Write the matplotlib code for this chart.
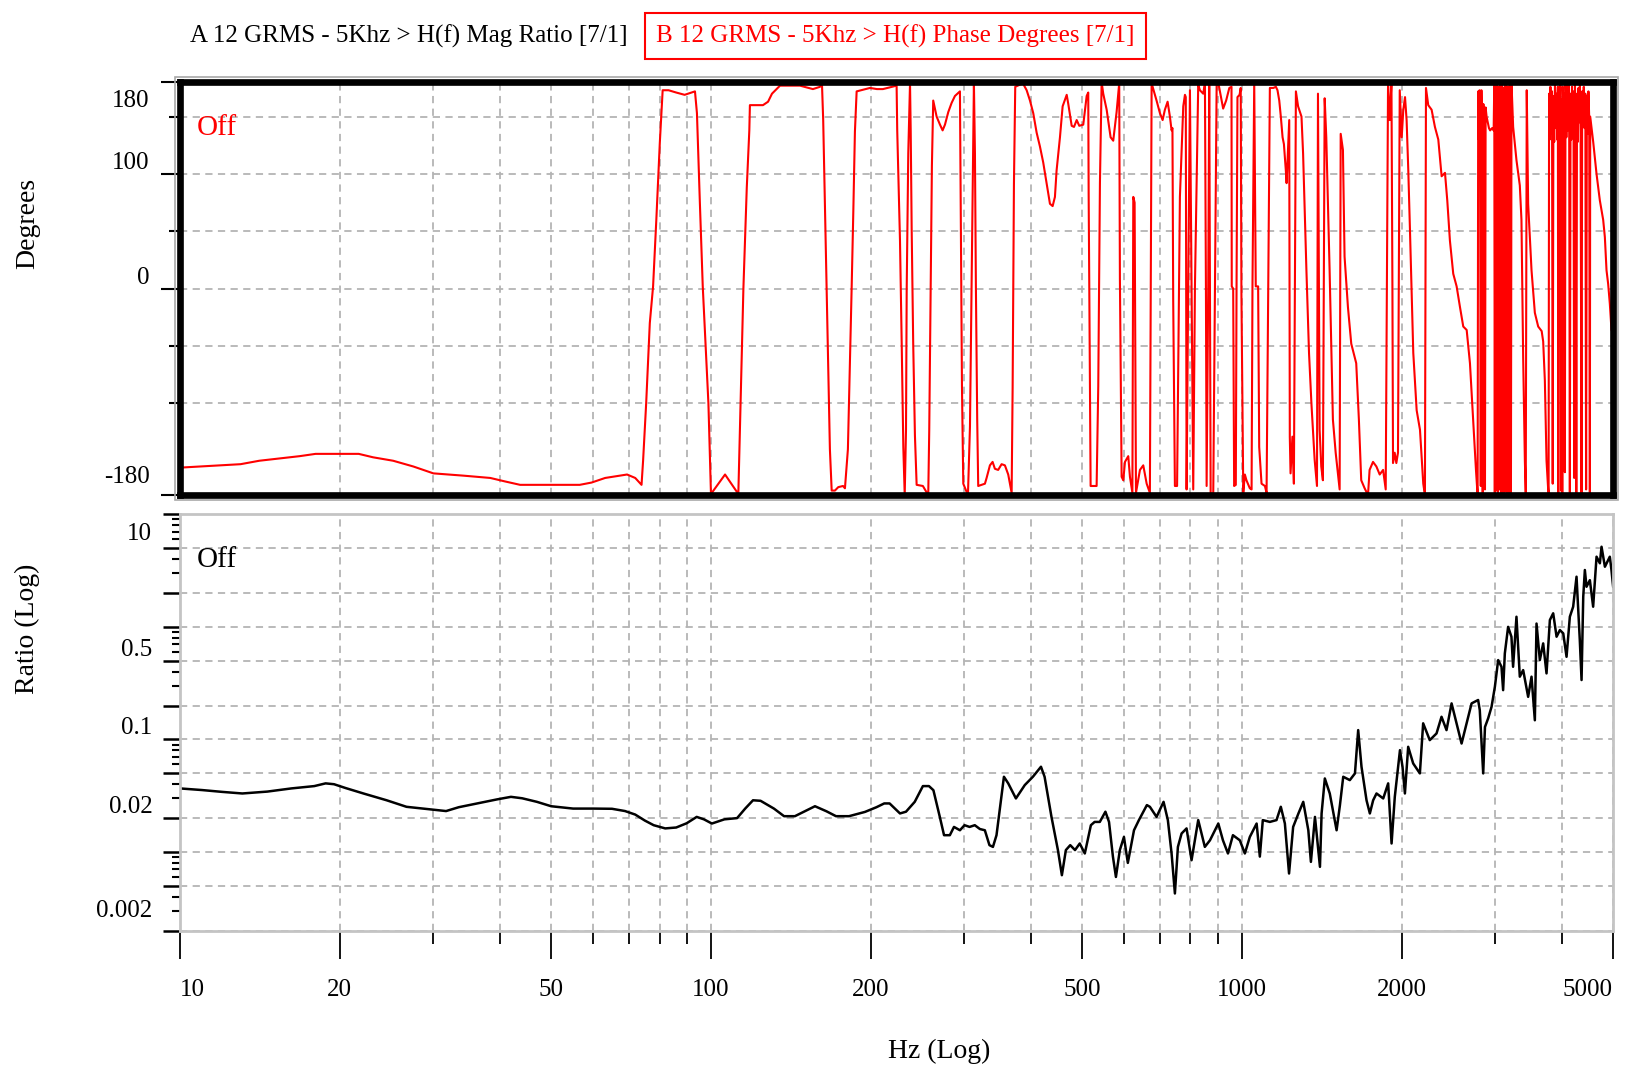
import matplotlib
matplotlib.use('Agg')
import matplotlib.pyplot as plt
from matplotlib.ticker import FixedLocator, FixedFormatter, NullFormatter
from matplotlib.transforms import ScaledTranslation
from matplotlib.patches import Rectangle

# phase trace (Hz, degrees)
phase_hz = [
    10, 10.9, 13.0, 14.1, 15.4, 16.8, 18.0, 21.7, 23.1, 25.2,
    27.5, 30.0, 34.2, 38.4, 40.9, 43.7, 56.6, 59.6, 63.2, 69.5,
    72.0, 74.0, 74.5, 75.5, 76.7, 77.8, 78.9, 80.1, 81.1, 83.2,
    86.0, 89.2, 93.3, 94.1, 95.3, 96.5, 97.4, 98.9, 100, 106.3,
    112.6, 113.4, 115.1, 116.8, 118.1, 118.4, 125.3, 128.1, 130.3, 134.9,
    147.1, 155.6, 160.5, 161.8, 162.7, 163.9, 165.1, 166.3, 167.5, 168.8,
    171.2, 173.7, 177.3, 178.8, 181.1, 182.7, 184.1, 185.4, 186.7, 188.1,
    199.3, 205.4, 210.8, 223.7, 224.3, 227.0, 228.7, 230.3, 231.7, 233.0,
    233.7, 235.3, 237.1, 237.8, 238.8, 240.4, 242.2, 244.0, 250.7, 252.9,
    256.6, 257.7, 259.2, 260.7, 262.2, 266.1, 270.0, 273.1, 275.9, 279.9,
    284.0, 288.1, 294.4, 295.3, 297.0, 298.7, 304.8, 307.5, 309.7, 311.9,
    312.8, 314.2, 315.5, 317.3, 318.7, 328.1, 330.5, 335.3, 339.2, 342.6,
    347.5, 352.7, 357.8, 363.0, 368.4, 370.0, 372.1, 374.2, 386.9, 393.2,
    398.9, 404.6, 410.6, 416.5, 422.5, 428.8, 435.0, 440.1, 444.5, 447.7,
    454.3, 459.6, 467.8, 471.0, 478.0, 482.8, 488.5, 494.0, 502.6, 510.1,
    513.6, 514.5, 517.4, 518.9, 532.6, 536.4, 540.3, 544.3, 548.1, 556.3,
    565.9, 572.4, 580.8, 587.4, 589.2, 593.6, 597.9, 602.3, 610.9, 615.4,
    622, 624.4, 628, 631.7, 642.7, 652.0, 661.7, 671, 676.1, 690.7,
    700.9, 709.1, 716.1, 724.6, 731.9, 737.2, 740, 742.4, 747.9, 755,
    764.3, 775.5, 781.2, 784, 786.8, 792.4, 798.3, 804.0, 809.8, 815.8,
    827.5, 833.6, 845.6, 851.9, 855.6, 858.2, 864.2, 868.0, 870.7, 873.3,
    883.2, 889.8, 896.4, 902.4, 922, 934, 947, 956, 957, 963,
    967, 974, 977, 981, 990, 995, 998, 1006, 1013, 1020,
    1035, 1043, 1047, 1055, 1062, 1073, 1078, 1089, 1105, 1113,
    1121, 1129, 1146, 1159, 1167, 1176, 1184, 1193, 1200, 1210,
    1214, 1222, 1228, 1231, 1235, 1245, 1253, 1264, 1276, 1295,
    1304, 1323, 1338, 1352, 1371, 1385, 1391, 1401, 1411, 1421,
    1432, 1442, 1463, 1484, 1502, 1528, 1535, 1550, 1561, 1584,
    1607, 1642, 1661, 1678, 1703, 1728, 1740, 1766, 1792, 1818,
    1845, 1866, 1885, 1899, 1913, 1921, 1926, 1940, 1954, 1968,
    1983, 2000, 2014, 2029, 2043, 2058, 2073, 2103, 2134, 2165,
    2196, 2212, 2222, 2244, 2277, 2310, 2344, 2378, 2413, 2437,
    2465, 2501, 2538, 2575, 2612, 2651, 2689, 2728, 2760, 2775,
    2780, 2787, 2795, 2803, 2810, 2818, 2826, 2834, 2842, 2850,
    2860, 2870, 2878, 2890, 2905, 2920, 2935, 2960, 2980, 2988,
    2995, 3002, 3009, 3016, 3023, 3030, 3037, 3044, 3051, 3058,
    3065, 3072, 3079, 3086, 3093, 3100, 3107, 3114, 3121, 3128,
    3135, 3142, 3149, 3156, 3163, 3170, 3178, 3186, 3195, 3205,
    3212, 3220, 3243, 3290, 3338, 3362, 3387, 3412, 3425, 3440,
    3461, 3512, 3563, 3615, 3670, 3694, 3721, 3748, 3775, 3782,
    3790, 3800, 3812, 3825, 3838, 3850,
    3862, 3875, 3888, 3900, 3913, 3925, 3937, 3944, 3952, 3965,
    3978, 3991, 4001, 4013, 4022, 4030, 4045, 4058, 4070, 4085,
    4098, 4110, 4122, 4135, 4147, 4160, 4173, 4186, 4200, 4213,
    4226, 4240, 4252, 4265, 4278, 4292, 4305, 4318, 4332, 4345,
    4362, 4375, 4390, 4405, 4420, 4435, 4450, 4465, 4480, 4495,
    4510, 4523, 4530, 4589, 4656, 4723, 4792, 4827, 4862, 4897,
    4932, 4968, 5000,
]
phase_deg = [
    -156, -155, -153, -150, -148, -146, -144, -144, -147, -150,
    -155, -161, -163, -165, -168, -171, -171, -169, -165, -162,
    -165, -171, -150, -100, -30, 2, 60, 127, 173, 173,
    171, 169, 172, 153, 75, 2, -36, -100, -179, -162,
    -179, -120, 0, 88, 138, 160, 160, 163, 170, 177,
    177, 174, 176, 180, 147, 75, 2, -70, -140, -176,
    -176, -173, -172, -174, -140, -65, 2, 67, 137, 172,
    175, 174, 174, 177, 138, 42, -48, -138, -180, -123,
    -1, 118, 179, 138, 52, -48, -128, -171, -172, -175,
    -180, -124, -7, 107, 164, 150, 143, 138, 143, 154,
    162, 168, 172, 83, -85, -170, -180, -120, 2, 121,
    179, 118, 2, -114, -172, -170, -165, -154, -151, -157,
    -158, -153, -154, -162, -178, -86, 91, 176, 179, 173,
    164, 153, 136, 124, 110, 92, 74, 72, 80, 103,
    132, 159, 169, 161, 142, 141, 147, 142, 143, 168,
    171, 83, -90, -172, -172, -85, 92, 180, 170, 156,
    132, 129, 154, 179, 8, -164, -167, -151, -146, -164,
    -178, 80, 75, -178, -158, -154, -170, -178, 179, 164,
    153, 147, 156, 163, 150, 138, 140, -10, -172, -172,
    80, 159, 169, 167, -175, 2, 173, 2, -175, 2,
    178, 173, 170, 179, 2, -172, 2, 180, 2, -178,
    -180, 2, 180, 180, 157, 164, 175, 176, 2, 0,
    -172, -171, -4, 167, 169, 175, -4, -178, -162, -167,
    -174, -175, 2, 180, 2, 2, -138, -170, -172, -178,
    -4, 175, 175, 176, 173, 164, 150, 132, 126, 103,
    92, 124, 147, -129, -161, -129, -170, 172, 159, 150,
    118, 16, -56, -100, -149, -172, 170, -123, -155, -167,
    166, 132, 16, -114, -143, -175, 135, 121, 28, -16,
    -48, -65, -114, -167, -174, -180, -158, -151, -155, -162,
    -158, -175, 179, 147, 180, 2, -152, -143, -152, -143,
    173, 132, 156, 167, 147, 103, 51, -56, -106, -123,
    -170, -180, 175, 160, 156, 141, 130, 98, 101, 77,
    42, 13, 2, -16, -33, -36, -65, -117, -158, -175,
    -178, 172, 130, 173, 124, -172, 173, 125, -178, 161,
    152, -175, 158, 150, 145, 140, 138, 140, 138, 178,
    -178, 176, 165, -176, 178, 168, -178, 176, 163, -175,
    179, 170, -178, 178, 166, -177, 175, 168, -178, 179,
    170, -176, 177, 165, -178, 176, 170, -178, 178, 170,
    -179, 179, 141, 112, 90, 60, -60, -150, -178, 173,
    74, 16, -21, -33, -37, -46, -80, -150, -175, -178,
    170, 130, 176, 135, 172, -170,
    168, 128, 178, 140, 170, 130, 176, -178, 172, 138,
    178, -176, 165, -178, 176, 125, 170, -160, 178, 132,
    174, 138, 179, 145, -178, 170, 130, 176, 136, 172,
    -165, 178, 140, -178, 170, 128, 175, 145, 178, 135,
    -178, 172, 150, 176, 140, 170, -175, 168, 135, 172,
    150, -178, 150, 128, 100, 77, 60, 45, 16, 4,
    -13, -36, -39,
]

# magnitude trace (Hz, ratio)
mag_hz = [
    10, 11, 12, 13.1, 14.6, 16.2, 17.9, 18.8, 19.5, 20.5,
    22.2, 24.5, 26.7, 29.6, 31.7, 33.5, 35.6, 39.5, 42, 44.1,
    47, 50, 55, 60, 65.1, 68.9, 72, 75.1, 78, 82,
    86, 90, 94, 97, 100.4, 106, 112, 116, 120, 124,
    131.4, 137.3, 143.9, 157, 165, 172, 182, 195, 205, 212,
    217, 227, 233, 242, 250.7, 257.4, 262.4, 269.8, 274.8, 281.8,
    286.9, 294.4, 300.3, 307, 314, 321, 328, 334.6, 339.7, 345,
    356.3, 363, 375.3, 390, 404, 418.4, 425, 437.9, 450.3, 458.1,
    466.1, 475, 485, 495, 506, 519.5, 528, 540, 553.3, 562,
    571.6, 579.1, 589, 599.6, 609.8, 626.3, 639.8, 662.3, 671, 690.7,
    712, 725.4, 737.2, 747.9, 757.7, 769.9, 786.7, 803.9, 827.5, 851.6,
    870.7, 902.8, 921.2, 941.4, 961.9, 991.2, 1013, 1035, 1066, 1081,
    1095, 1129, 1162, 1184, 1205, 1227, 1249, 1278, 1305, 1334,
    1349, 1373, 1383, 1403, 1413, 1433, 1464, 1508, 1530, 1552,
    1597, 1633, 1656, 1680, 1717, 1742, 1767, 1793, 1846, 1886,
    1914, 1941, 1985, 2007, 2028, 2057, 2102, 2164, 2195, 2259,
    2326, 2377, 2429, 2483, 2537, 2593, 2669, 2708, 2786, 2806,
    2848, 2870, 2910, 2953, 2996, 3039, 3083, 3105, 3128, 3173,
    3219, 3242, 3290, 3338, 3387, 3461, 3512, 3563, 3589, 3641,
    3694, 3748, 3803, 3858, 3915, 3972, 4030, 4088, 4147, 4207,
    4269, 4330, 4363, 4395, 4426, 4458, 4523, 4588, 4656, 4724,
    4758, 4828, 4898, 4932, 4967, 5004,
]
mag_ratio = [
    0.0367, 0.0355, 0.0342, 0.0331, 0.0344, 0.0367, 0.0385, 0.0407, 0.0400, 0.0370,
    0.0330, 0.0288, 0.0252, 0.0239, 0.0231, 0.0250, 0.0265, 0.0293, 0.0309, 0.0300,
    0.0279, 0.0255, 0.0243, 0.0243, 0.0242, 0.0231, 0.0215, 0.0190, 0.0173, 0.0162,
    0.0165, 0.0180, 0.0205, 0.0195, 0.0179, 0.0195, 0.0200, 0.0243, 0.0288, 0.0285,
    0.0243, 0.0208, 0.0208, 0.0255, 0.0230, 0.0208, 0.0208, 0.0227, 0.0250, 0.0270,
    0.0270, 0.0220, 0.0228, 0.0279, 0.0385, 0.0385, 0.0354, 0.0205, 0.0141, 0.0141,
    0.0167, 0.0156, 0.0173, 0.0167, 0.0173, 0.0160, 0.0156, 0.0115, 0.0111, 0.0141,
    0.0466, 0.0407, 0.0299, 0.0393, 0.0466, 0.0572, 0.0466, 0.0205, 0.0104, 0.00622,
    0.0104, 0.0115, 0.0104, 0.0119, 0.0097, 0.0173, 0.0185, 0.0185, 0.0228, 0.0185,
    0.0091, 0.0060, 0.0104, 0.0136, 0.0080, 0.0156, 0.0192, 0.0261, 0.0252, 0.0205,
    0.0279, 0.0192, 0.0097, 0.00428, 0.0111, 0.0146, 0.0162, 0.00845, 0.0192, 0.0111,
    0.0127, 0.0179, 0.0127, 0.0097, 0.0141, 0.0127, 0.0097, 0.0136, 0.0179, 0.0091,
    0.0192, 0.0185, 0.0192, 0.0252, 0.0179, 0.00644, 0.0167, 0.0220, 0.0279, 0.0156,
    0.00817, 0.0205, 0.0146, 0.00738, 0.0220, 0.045, 0.0331, 0.0156, 0.0261, 0.0466,
    0.0435, 0.0499, 0.121, 0.0572, 0.0288, 0.0220, 0.0288, 0.0331, 0.0299, 0.0407,
    0.0119, 0.0309, 0.0803, 0.0572, 0.0331, 0.086, 0.0612, 0.0499, 0.139, 0.0986,
    0.113, 0.159, 0.121, 0.209, 0.139, 0.092, 0.159, 0.209, 0.224, 0.182,
    0.0499, 0.129, 0.154, 0.195, 0.294, 0.507, 0.442, 0.274, 0.581, 1.0,
    0.817, 0.442, 1.23, 0.361, 0.413, 0.239, 0.361, 0.148, 1.07, 0.507,
    0.713, 0.386, 1.15, 1.32, 0.817, 0.937, 0.875, 0.542, 1.23, 1.51,
    2.79, 0.763, 0.337, 1.85, 3.20, 2.27, 2.60, 1.51, 4.20, 3.67,
    5.15, 3.42, 3.93, 4.20, 3.20, 2.27,
]

hz_labeled = [10, 20, 50, 100, 200, 500, 1000, 2000, 5000]
hz_minor = [30, 40, 60, 70, 80, 90, 300, 400, 600, 700, 800, 900, 3000, 4000]
deg_major = [-180, 0, 100, 180]
deg_minor = [-100, -50, 50, 150]
deg_grid = [-100, -50, 0, 50, 100, 150]
ratio_major = [0.002, 0.005, 0.01, 0.02, 0.05, 0.1, 0.2, 0.5, 1, 2, 5, 10]
ratio_labeled = [0.002, 0.02, 0.1, 0.5, 10]
ratio_minor = [m * d for d in [0.001, 0.01, 0.1, 1] for m in [3, 4, 6, 7, 8, 9] if 0.002 < m * d < 10]

title_a = 'A 12 GRMS - 5Khz > H(f) Mag Ratio [7/1]'
title_b = 'B 12 GRMS - 5Khz > H(f) Phase Degrees [7/1]'

plt.rcParams['font.family'] = ['Liberation Serif', 'DejaVu Serif']
grid_kw = dict(color='#b4b4b4', linestyle=(0, (4, 3)), linewidth=1.3)

fig = plt.figure(figsize=(16.25, 10.69), dpi=100)
ax1 = fig.add_axes([0.1108, 0.5368, 0.8818, 0.3863])
ax2 = fig.add_axes([0.1108, 0.1294, 0.8818, 0.3895])


def nudge(label, dy_px):
    # shift a tick label up/down by a few pixels
    label.set_transform(label.get_transform() + ScaledTranslation(0, dy_px / 100, fig.dpi_scale_trans))


# --- upper chart: phase
ax1.plot(phase_hz, phase_deg, color='#ff0000', lw=1.5)
ax1.set_xscale('log')
ax1.set_xlim(10, 5000)
ax1.set_ylim(-180, 180)
ax1.xaxis.set_major_locator(FixedLocator(hz_labeled[1:] + hz_minor))
ax1.xaxis.set_minor_locator(FixedLocator([]))
ax1.tick_params(axis='x', which='both', length=0, labelbottom=False)
ax1.yaxis.set_major_locator(FixedLocator(deg_major))
ax1.yaxis.set_major_formatter(FixedFormatter([str(v) for v in deg_major]))
ax1.yaxis.set_minor_locator(FixedLocator(deg_minor))
ax1.tick_params(axis='y', which='major', length=14, width=1.5, pad=8, labelsize=18)
ax1.tick_params(axis='y', which='minor', length=8, width=1.5)
for v in deg_grid:
    ax1.axhline(v, zorder=0, **grid_kw)
ax1.grid(axis='x', which='major', **grid_kw)
ax1.set_axisbelow(True)
for s in ax1.spines.values():
    s.set_linewidth(4.8)
    s.set_color('black')
for lbl, v in zip(ax1.get_yticklabels(), deg_major):
    lbl.set_va('top' if v == 180 else 'bottom')
    if v == 180:
        nudge(lbl, -8)
    elif v == -180:
        nudge(lbl, 7)
ax1.text(0.012, 0.89, 'Off', color='#ff0000', fontsize=21, transform=ax1.transAxes, va='center')
fig.add_artist(Rectangle((0.1108 - 5 / 1625, 0.5368 - 5 / 1069), 0.8818 + 10 / 1625, 0.3863 + 10 / 1069,
                         transform=fig.transFigure, fill=False, ec='#a8a8a8', lw=1.2))

# --- lower chart: magnitude
ax2.plot(mag_hz, mag_ratio, color='black', lw=1.8)
ax2.set_xscale('log')
ax2.set_yscale('log')
ax2.set_xlim(10, 5000)
ax2.set_ylim(0.002, 10)
ax2.xaxis.set_major_locator(FixedLocator(hz_labeled))
ax2.xaxis.set_major_formatter(FixedFormatter([str(v) for v in hz_labeled]))
ax2.xaxis.set_minor_locator(FixedLocator(hz_minor))
ax2.xaxis.set_minor_formatter(NullFormatter())
ax2.tick_params(axis='x', which='major', length=20, width=1.3, pad=15, labelsize=18)
ax2.tick_params(axis='x', which='minor', length=9, width=1.3)
ax2.yaxis.set_major_locator(FixedLocator(ratio_major))
ax2.yaxis.set_major_formatter(FixedFormatter(
    [('%g' % v) if v in ratio_labeled else '' for v in ratio_major]))
ax2.yaxis.set_minor_locator(FixedLocator(ratio_minor))
ax2.yaxis.set_minor_formatter(NullFormatter())
ax2.tick_params(axis='y', which='major', length=12, width=1.8, pad=8, labelsize=18)
ax2.tick_params(axis='y', which='minor', length=6, width=1.5)
ax2.grid(which='major', **grid_kw)
ax2.grid(axis='x', which='minor', **grid_kw)
ax2.set_axisbelow(True)
for s in ax2.spines.values():
    s.set_linewidth(2)
    s.set_color('#c4c4c4')
for lbl, v in zip(ax2.get_yticklabels(), ratio_major):
    lbl.set_va('top' if v == 10 else 'bottom')
    if v == 10:
        nudge(lbl, -9)
    elif v == 0.002:
        nudge(lbl, 9)
xl = ax2.get_xticklabels()
xl[0].set_ha('left')
xl[-1].set_ha('right')
ax2.text(0.012, 0.89, 'Off', color='black', fontsize=21, transform=ax2.transAxes, va='center')

# --- titles and axis captions
fig.text(0.117, 0.966, title_a, fontsize=18, va='center', ha='left')
fig.text(0.404, 0.966, title_b, fontsize=18, va='center', ha='left', color='#ff0000',
         bbox=dict(boxstyle='square,pad=0.45', fc='white', ec='#ff0000', lw=1.5))
fig.text(0.017, 0.791, 'Degrees', rotation=90, fontsize=20, va='center', ha='center')
fig.text(0.017, 0.412, 'Ratio (Log)', rotation=90, fontsize=20, va='center', ha='center')
fig.text(0.578, 0.016, 'Hz (Log)', fontsize=20, va='center', ha='center')

fig.savefig('out.png', dpi=100, facecolor='white')
